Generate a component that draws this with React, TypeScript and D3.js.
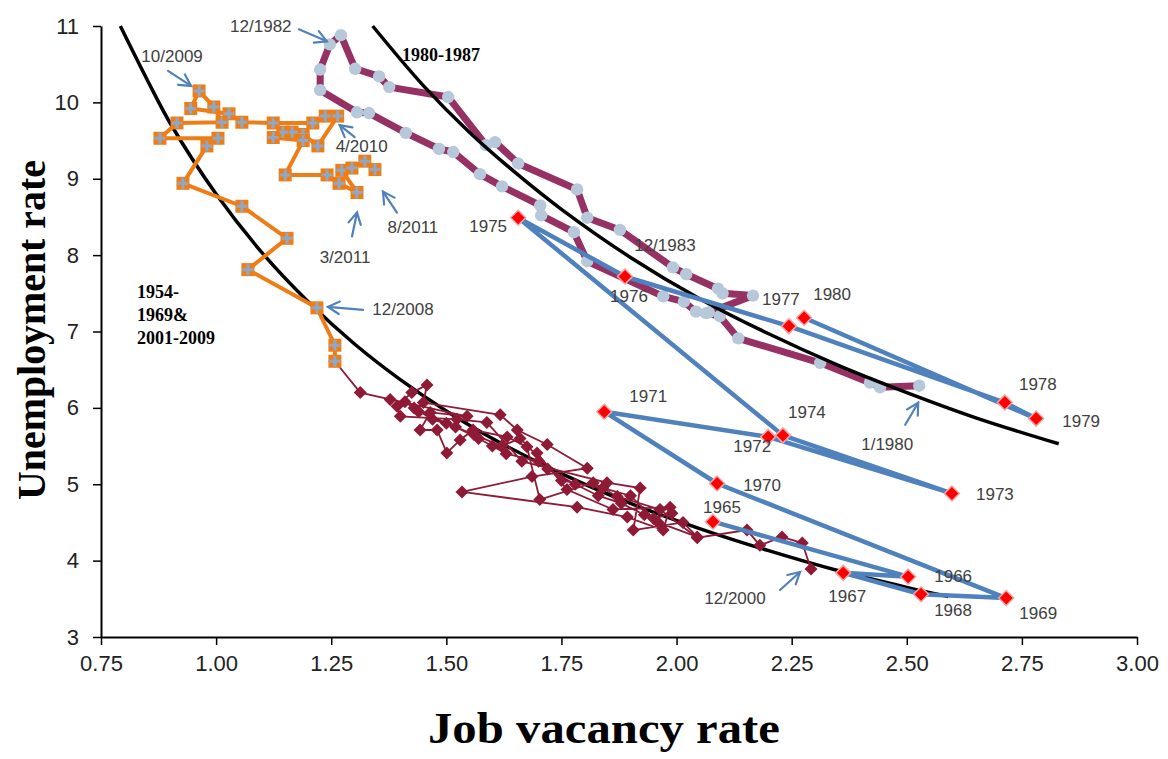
import React, { useEffect, useRef } from "react";
import * as d3 from "d3";

const W = 1168;
const H = 759;

const xTicks = [0.75, 1.0, 1.25, 1.5, 1.75, 2.0, 2.25, 2.5, 2.75, 3.0];
const yTicks = [3, 4, 5, 6, 7, 8, 9, 10, 11];

// annual points 1965-1980 (blue line, red diamonds)
const years = [1965, 1966, 1967, 1968, 1969, 1970, 1971, 1972, 1973, 1974, 1975, 1976, 1977, 1978, 1979, 1980];
const yearVacancy = [2.079, 2.503, 2.362, 2.531, 2.716, 2.088, 1.843, 2.199, 2.598, 2.231, 1.656, 1.888, 2.244, 2.713, 2.781, 2.277];
const yearUnemp = [4.51, 3.79, 3.84, 3.56, 3.51, 5.01, 5.95, 5.62, 4.88, 5.64, 8.49, 7.72, 7.07, 6.07, 5.86, 7.18];

// 1980-1987 monthly path (purple)
const eightiesVacancy = [2.527, 2.442, 2.42, 2.312, 2.134, 2.094, 2.064, 2.042, 2.016, 1.971, 1.806, 1.777, 1.706, 1.704, 1.621, 1.573, 1.515, 1.484, 1.412, 1.332, 1.306, 1.226, 1.226, 1.247, 1.271, 1.302, 1.354, 1.376, 1.504, 1.586, 1.606, 1.656, 1.784, 1.806, 1.877, 1.992, 2.021, 2.09, 2.1, 2.166, 2.07];
const eightiesUnemp = [6.29, 6.27, 6.33, 6.59, 6.91, 7.2, 7.24, 7.26, 7.39, 7.46, 7.92, 8.3, 8.52, 8.65, 8.9, 9.06, 9.35, 9.39, 9.6, 9.86, 9.87, 10.16, 10.43, 10.76, 10.88, 10.44, 10.34, 10.2, 10.07, 9.44, 9.48, 9.2, 8.86, 8.49, 8.33, 7.84, 7.75, 7.56, 7.5, 7.47, 7.25];

// 1954-1969 (dark red)
const earlyVacancy = [1.697, 1.762, 1.862, 1.986, 1.971, 1.893, 1.784, 1.534, 1.686, 1.806, 1.719, 1.654, 1.617, 1.45, 1.458, 1.425, 1.393, 1.4, 1.523, 1.588, 1.664, 1.849, 1.921, 1.906, 2.014, 2.045, 1.96, 1.93, 1.88, 1.83, 1.78, 1.72, 1.7, 1.63, 1.6, 1.57, 1.52, 1.47, 1.43, 1.41, 1.44, 1.5, 1.56, 1.62, 1.66, 1.75, 1.84, 1.9, 1.95, 1.99];
const earlyUnemp = [5.41, 4.93, 4.67, 4.7, 4.4, 4.57, 4.7, 4.9, 5.1, 5.21, 5.52, 5.71, 5.91, 6.07, 6.3, 6.2, 6.02, 5.89, 5.85, 5.81, 5.3, 5.02, 4.95, 4.4, 4.5, 4.31, 4.5, 4.6, 4.75, 4.85, 5.0, 5.2, 5.3, 5.4, 5.5, 5.6, 5.75, 5.85, 6.0, 6.08, 5.95, 5.8, 5.65, 5.5, 5.6, 5.05, 4.95, 4.85, 4.55, 4.62];

// 2001-2008 (dark red)
const recentVacancy = [2.292, 2.273, 2.229, 2.181, 2.153, 2.045, 1.964, 1.871, 1.819, 1.703, 1.675, 1.632, 1.558, 1.53, 1.501, 1.48, 1.443, 1.465, 1.545, 1.378, 1.313, 1.258];
const recentUnemp = [3.89, 4.23, 4.31, 4.2, 4.4, 4.3, 4.67, 4.84, 5.02, 4.8, 5.49, 5.62, 5.71, 5.58, 5.41, 5.71, 5.71, 5.94, 5.89, 6.11, 6.2, 6.61];

// 2008-2011 monthly (orange)
const crisisVacancy = [1.258, 1.258, 1.219, 1.069, 1.154, 1.056, 0.928, 0.98, 1.004, 0.878, 0.915, 1.013, 0.995, 0.963, 0.945, 1.028, 1.056, 1.124, 1.21, 1.237, 1.264, 1.221, 1.189, 1.165, 1.145, 1.124, 1.189, 1.15, 1.241, 1.267, 1.306, 1.273, 1.295, 1.323, 1.345];
const crisisUnemp = [6.61, 6.82, 7.31, 7.81, 8.22, 8.64, 8.94, 9.43, 9.53, 9.53, 9.73, 9.74, 9.94, 10.15, 9.92, 9.85, 9.74, 9.73, 9.73, 9.82, 9.82, 9.43, 9.58, 9.61, 9.61, 9.54, 9.5, 9.05, 9.05, 8.94, 8.82, 9.11, 9.14, 9.23, 9.12];

// fitted Beveridge curves
const curveEarlyV = [0.792, 0.85, 0.9, 1.0, 1.1, 1.2, 1.3, 1.4, 1.5, 1.6, 1.75, 1.9, 2.05, 2.2, 2.35, 2.5, 2.59];
const curveEarlyU = [11.0, 10.3, 9.73, 8.8, 8.03, 7.39, 6.84, 6.37, 5.96, 5.6, 5.14, 4.75, 4.42, 4.13, 3.87, 3.65, 3.53];
const curveLateV = [1.34, 1.45, 1.55, 1.65, 1.75, 1.9, 2.05, 2.2, 2.35, 2.5, 2.65, 2.83];
const curveLateU = [11.0, 10.22, 9.61, 9.08, 8.6, 7.97, 7.43, 6.97, 6.56, 6.2, 5.87, 5.53];

// year label offsets in px relative to the diamond
const yearLabelOffset = {
  1965: [9, -14], 1966: [45, 0], 1967: [4, 24], 1968: [32, 16], 1969: [32, 15],
  1970: [45, 2], 1971: [44, -15], 1972: [-16, 10], 1973: [43, 1], 1974: [24, -23],
  1975: [-30, 9], 1976: [4, 20], 1977: [-8, -27], 1978: [33, -18], 1979: [45, 3], 1980: [28, -23],
};

// arrow callouts: target point, then tip / tail / label offsets in px
const callouts = [
  { text: "12/1982", v: 1.247, u: 10.76, tip: [-3, -3], tail: [-31, -15], label: [-69, -18] },
  { text: "10/2009", v: 0.963, u: 10.15, tip: [-8, -5], tail: [-31, -20], label: [-27, -34] },
  { text: "4/2010", v: 1.264, u: 9.82, tip: [2, 9], tail: [17, 21], label: [24, 30] },
  { text: "3/2011", v: 1.306, u: 8.82, tip: [0, 20], tail: [-5, 44], label: [-12, 65] },
  { text: "8/2011", v: 1.345, u: 9.12, tip: [8, 22], tail: [22, 43], label: [38, 58] },
  { text: "12/2008", v: 1.219, u: 7.31, tip: [11, -1], tail: [46, 2], label: [86, 2] },
  { text: "12/2000", v: 2.292, u: 3.89, tip: [-11, 3], tail: [-31, 21], label: [-76, 29] },
  { text: "1/1980", v: 2.527, u: 6.29, tip: [-1, 17], tail: [-14, 39], label: [-32, 59] },
];

const BLUE = "#4F81BD";
const PURPLE = "#953163";
const DOT = "#B7C8DA";
const ORANGE = "#EF7D16";
const DARKRED = "#8F1A36";
const LABEL = "#404040";
const SANS = "'Liberation Sans', Arial, sans-serif";
const SERIF = "'Liberation Serif', 'Times New Roman', serif";

const x = d3.scaleLinear().domain([0.75, 3]).range([101, 1137]);
const y = d3.scaleLinear().domain([3, 11]).range([637, 26]);

const zip = (vs: number[], us: number[]) => vs.map((v, i) => [v, us[i]] as [number, number]);

const line = d3
  .line<[number, number]>()
  .x((d) => x(d[0]))
  .y((d) => y(d[1]));

const smooth = d3
  .line<[number, number]>()
  .x((d) => x(d[0]))
  .y((d) => y(d[1]))
  .curve(d3.curveCatmullRom);

const diamond = (cx: number, cy: number, r: number) =>
  `M${cx},${cy - r}L${cx + r},${cy}L${cx},${cy + r}L${cx - r},${cy}Z`;

function Arrow({ x1, y1, x2, y2 }: { x1: number; y1: number; x2: number; y2: number }) {
  const a = Math.atan2(y2 - y1, x2 - x1);
  const len = 13;
  const spread = 0.5;
  const p1 = [x2 - len * Math.cos(a - spread), y2 - len * Math.sin(a - spread)];
  const p2 = [x2 - len * Math.cos(a + spread), y2 - len * Math.sin(a + spread)];
  return (
    <g stroke={BLUE} strokeWidth={2.2} fill="none" strokeLinecap="round">
      <line x1={x1} y1={y1} x2={x2} y2={y2} />
      <polyline points={`${p1[0]},${p1[1]} ${x2},${y2} ${p2[0]},${p2[1]}`} />
    </g>
  );
}

export default function App() {
  const xAxisRef = useRef<SVGGElement>(null);
  const yAxisRef = useRef<SVGGElement>(null);

  useEffect(() => {
    const xAxis = d3
      .axisBottom(x)
      .tickValues(xTicks)
      .tickFormat(d3.format(".2f"))
      .tickSize(8)
      .tickSizeOuter(0)
      .tickPadding(10);
    const yAxis = d3.axisLeft(y).tickValues(yTicks).tickSize(8).tickSizeOuter(0).tickPadding(14);

    const gx = d3.select(xAxisRef.current!).call(xAxis as any);
    const gy = d3.select(yAxisRef.current!).call(yAxis as any);
    [gx, gy].forEach((g) => {
      g.select(".domain").attr("stroke", "#000").attr("stroke-width", 2);
      g.selectAll(".tick line").attr("stroke", "#000").attr("stroke-width", 1.5);
      g.selectAll(".tick text")
        .attr("fill", "#222")
        .style("font-family", SANS)
        .style("font-size", "22px");
    });
  }, []);

  const yearPts = zip(yearVacancy, yearUnemp);
  const pt12_1983 = [x(1.877), y(8.33)];

  return (
    <svg width={W} height={H} style={{ position: "absolute", left: 0, top: 0, background: "#fff" }}>
      <rect width={W} height={H} fill="#fff" />

      {/* 1980-1987 path */}
      <path d={line(zip(eightiesVacancy, eightiesUnemp))!} fill="none" stroke={PURPLE} strokeWidth={7} strokeLinejoin="round" />
      {zip(eightiesVacancy, eightiesUnemp).map((d, i) => (
        <circle key={"p" + i} cx={x(d[0])} cy={y(d[1])} r={6.2} fill={DOT} />
      ))}

      {/* Beveridge curves */}
      <path d={smooth(zip(curveEarlyV, curveEarlyU))!} fill="none" stroke="#000" strokeWidth={3.5} />
      <path d={smooth(zip(curveLateV, curveLateU))!} fill="none" stroke="#000" strokeWidth={3.5} />

      {/* 1954-1969 and 2001-2008 */}
      {[zip(earlyVacancy, earlyUnemp), zip(recentVacancy, recentUnemp)].map((pts, k) => (
        <g key={"r" + k}>
          <path d={line(pts)!} fill="none" stroke={DARKRED} strokeWidth={1.8} />
          {pts.map((d, i) => (
            <path key={i} d={diamond(x(d[0]), y(d[1]), 6.5)} fill={DARKRED} />
          ))}
        </g>
      ))}

      {/* 2008-2011 */}
      <path d={line(zip(crisisVacancy, crisisUnemp))!} fill="none" stroke={ORANGE} strokeWidth={4} strokeLinejoin="round" />
      {zip(crisisVacancy, crisisUnemp).map((d, i) => {
        const cx = x(d[0]);
        const cy = y(d[1]);
        return (
          <g key={"o" + i}>
            <rect x={cx - 6.5} y={cy - 6.5} width={13} height={13} fill={ORANGE} />
            <path d={`M${cx - 5.5},${cy}H${cx + 5.5}M${cx},${cy - 5.5}V${cy + 5.5}`} stroke="#8EA8C9" strokeWidth={3} />
          </g>
        );
      })}

      {/* 1965-1980 annual */}
      <path d={line(yearPts)!} fill="none" stroke={BLUE} strokeWidth={4.5} strokeLinejoin="round" />
      {yearPts.map((d, i) => (
        <path key={"y" + i} d={diamond(x(d[0]), y(d[1]), 7.5)} fill="#FF0000" stroke="#F2A5A5" strokeWidth={1.5} />
      ))}
      {yearPts.map((d, i) => {
        const off = (yearLabelOffset as any)[years[i]];
        return (
          <text
            key={"yl" + i}
            x={x(d[0]) + off[0]}
            y={y(d[1]) + off[1]}
            textAnchor="middle"
            dominantBaseline="central"
            fill={LABEL}
            style={{ fontFamily: SANS, fontSize: 17 }}
          >
            {years[i]}
          </text>
        );
      })}

      {/* callouts */}
      {callouts.map((c) => {
        const px = x(c.v);
        const py = y(c.u);
        return (
          <g key={c.text}>
            <Arrow x1={px + c.tail[0]} y1={py + c.tail[1]} x2={px + c.tip[0]} y2={py + c.tip[1]} />
            <text
              x={px + c.label[0]}
              y={py + c.label[1]}
              textAnchor="middle"
              dominantBaseline="central"
              fill={LABEL}
              style={{ fontFamily: SANS, fontSize: 17 }}
            >
              {c.text}
            </text>
          </g>
        );
      })}
      <text x={pt12_1983[0] + 45} y={pt12_1983[1] + 16} textAnchor="middle" dominantBaseline="central" fill={LABEL}
        style={{ fontFamily: SANS, fontSize: 17 }}>
        12/1983
      </text>

      {/* serif notes */}
      <text x={441} y={55} textAnchor="middle" dominantBaseline="central"
        style={{ fontFamily: SERIF, fontSize: 18, fontWeight: 700 }}>
        1980-1987
      </text>
      <g style={{ fontFamily: SERIF, fontSize: 18, fontWeight: 700 }}>
        <text x={137} y={292} dominantBaseline="central">1954-</text>
        <text x={137} y={315} dominantBaseline="central">1969&amp;</text>
        <text x={137} y={338} dominantBaseline="central">2001-2009</text>
      </g>

      {/* axes */}
      <g ref={xAxisRef} transform="translate(0,637)" />
      <g ref={yAxisRef} transform="translate(101,0)" />

      <text x={604} y={728} textAnchor="middle" dominantBaseline="central" textLength={352} lengthAdjust="spacingAndGlyphs"
        style={{ fontFamily: SERIF, fontSize: 44, fontWeight: 700 }}>
        Job vacancy rate
      </text>
      <text transform="translate(31,330) rotate(-90)" textAnchor="middle" dominantBaseline="central"
        textLength={340} lengthAdjust="spacingAndGlyphs"
        style={{ fontFamily: SERIF, fontSize: 40, fontWeight: 700 }}>
        Unemployment  rate
      </text>
    </svg>
  );
}
